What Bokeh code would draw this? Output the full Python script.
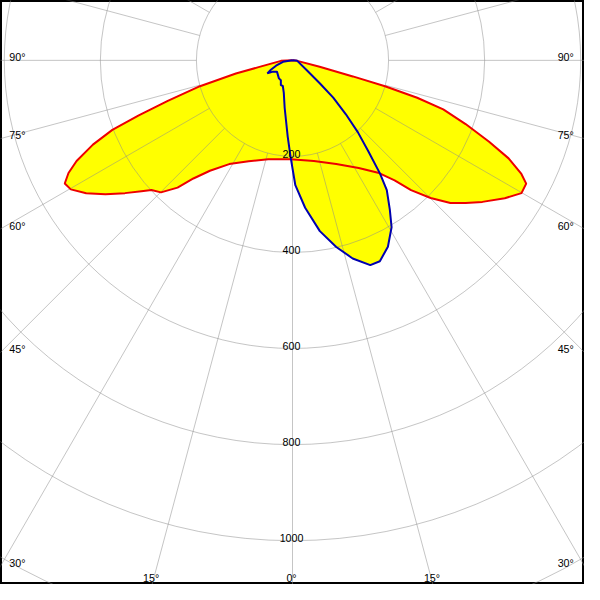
import numpy as np
from bokeh.plotting import figure
from bokeh.embed import file_html
from bokeh.resources import INLINE
from bokeh.models import Range1d
from bokeh.core.properties import value

# ---- data (angle in degrees from nadir, intensity in cd) ----
red_angles = [-90, -87.6, -78.7, -76.9, -74.4, -72.0, -70.3, -68.9, -67.1, -65.0,
              -63.3, -61.6, -59.8, -57.2, -54.4, -51.6, -49.1, -47.4, -44.9, -42.1,
              -40.0, -36.8, -31.4, -23.5, -13.8, -1.1, 12.0, 22.9, 31.6, 37.3,
              40.4, 42.4, 45.1, 47.9, 50.5, 53.3, 57.0, 59.9, 62.2, 63.6,
              65.6, 67.5, 69.8, 72.0, 73.3, 74.4, 75.1, 76.9, 84.0, 90]
red_cd = [0, 24, 72, 121, 200, 273, 340, 402, 451, 496,
          522, 539, 534, 511, 479, 445, 416, 399, 388, 357,
          321, 287, 253, 229, 212, 206, 214, 234, 263, 294,
          328, 366, 406, 443, 467, 493, 527, 551, 550, 532,
          494, 443, 384, 330, 271, 200, 130, 58, 10, 0]

blue_angles = [-90, -81.5, -72.0, -66.6, -62.6, -60.0, -54.0, -37.0, -30.3, -25.2,
               -20.7, -15.0, -9.4, -3.6, -1.2, 1.3, 4.9, 9.1, 13.2, 16.9,
               20.8, 23.5, 27.1, 30.7, 33.1, 36.0, 37.7, 39.8, 42.3, 44.7,
               47.5, 50.0, 55.0, 84.0, 90]
blue_cd = [0, 20, 36, 49, 59, 47, 40, 47, 48, 57,
           57, 70, 100, 159, 200, 260, 308, 360, 399, 431,
           456, 456, 436, 404, 371, 334, 298, 247, 202, 158,
           115, 74, 37, 10, 0]

rings = [200, 400, 600, 800, 1000, 1200]
ring_labels = ["200", "400", "600", "800", "1000"]
spoke_angles = list(range(0, 360, 15))
side_label_angles = [90, 75, 60, 45, 30]
bottom_label_angles = [-15, 0, 15]

# ---- layout ----
W = 584
REF = 600.0
k = 0.4935            # reference px per cd
cy = 61.5             # reference px of pole from top
X1 = 300 / k
X0 = -X1
Y1 = cy / k
Y0 = -(REF - cy) / k
px = 1 / k            # one reference pixel in data units

def xy(ang, cd):
    a = np.radians(np.asarray(ang, dtype=float))
    r = np.asarray(cd, dtype=float)
    return list(r * np.sin(a)), list(-r * np.cos(a))

p = figure(width=W, height=W, x_range=Range1d(X0, X1), y_range=Range1d(Y0, Y1),
           output_backend="svg", toolbar_location=None, min_border=0,
           x_axis_type=None, y_axis_type=None)
p.grid.visible = False
p.outline_line_color = "black"
p.outline_line_width = 3
p.background_fill_color = "white"
p.border_fill_color = "white"

rx, ry = xy(red_angles, red_cd)
bx, by = xy(blue_angles, blue_cd)

p.patch(rx, ry, fill_color="#FFFF00", line_color=None)
p.patch(bx, by, fill_color="#FFFF00", line_color=None)

# grid
gcol = "#8c8c8c"
galpha = 0.5
p.circle(x=[0] * len(rings), y=[0] * len(rings), radius=rings,
         fill_color=None, line_color=gcol, line_alpha=galpha, line_width=1)
sa = np.radians(spoke_angles)
p.segment(x0=list(200 * np.sin(sa)), y0=list(-200 * np.cos(sa)),
          x1=list(1500 * np.sin(sa)), y1=list(-1500 * np.cos(sa)),
          line_color=gcol, line_alpha=galpha, line_width=1)

# curves
p.line(rx + [rx[0]], ry + [ry[0]], line_color="#EE0000", line_width=2)
p.line(bx + [bx[0]], by + [by[0]], line_color="#0000B0", line_width=2)

font = value("Liberation Sans")
fs = "10.7px"

# ring labels
p.text(x=[-1 * px] * len(ring_labels), y=[-r + 2.7 * px for r in rings[:len(ring_labels)]],
       text=ring_labels, text_font=font, text_font_size=fs, text_color="black",
       text_align="center", text_baseline="alphabetic")

# side labels
ly = []
for a in side_label_angles:
    ar = np.radians(a)
    ly.append(-X1 * np.cos(ar) / np.sin(ar) + 3.5 * px)
p.text(x=[X0 + 9 * px] * len(ly), y=ly, text=[f"{a}°" for a in side_label_angles],
       text_font=font, text_font_size=fs, text_color="black",
       text_align="left", text_baseline="alphabetic")
p.text(x=[X1 - 11 * px] * len(ly), y=ly, text=[f"{a}°" for a in side_label_angles],
       text_font=font, text_font_size=fs, text_color="black",
       text_align="right", text_baseline="alphabetic")

# bottom labels
bxl = [-Y0 * np.tan(np.radians(a)) - 1 * px for a in bottom_label_angles]
p.text(x=bxl, y=[(cy - 593) / k] * len(bxl),
       text=[f"{abs(a)}°" for a in bottom_label_angles],
       text_font=font, text_font_size=fs, text_color="black",
       text_align="center", text_baseline="alphabetic")

open("out.html", "w").write(file_html(p, INLINE))
